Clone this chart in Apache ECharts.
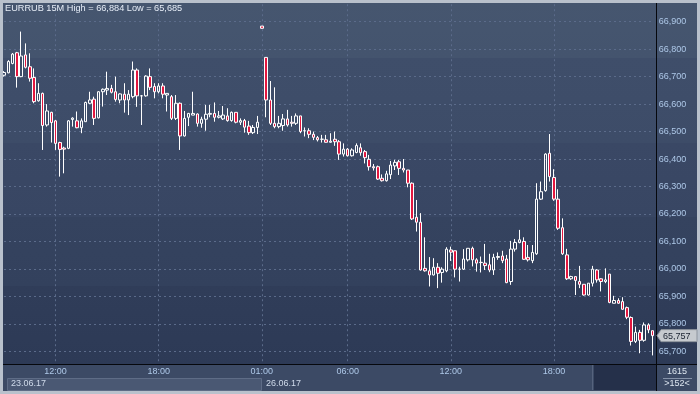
<!DOCTYPE html>
<html><head><meta charset="utf-8">
<script src="https://cdn.jsdelivr.net/npm/echarts@6/dist/echarts.min.js"></script>
<style>
html,body{margin:0;padding:0;background:#2c3a56;overflow:hidden;}
#c{width:700px;height:394px;background:linear-gradient(to bottom,#46566f 0px,#44546e 58px,#3f4e6a 58px,#3d4c68 143px,#3a4865 143px,#384663 217px,#35435f 217px,#33415d 286px,#303d59 286px,#2d3a56 364px,#2d3a56 394px);}
</style></head><body><div id="c"></div>
<script>
// ---- data (EURRUB 15M) ----
const open = [
66.705,66.714,66.748,66.787,66.700,66.779,66.736,66.697,66.612,66.639,
66.524,66.570,66.539,66.460,66.440,66.439,66.544,66.539,66.514,66.536,
66.603,66.618,66.550,66.645,66.651,66.657,66.645,66.615,66.636,66.615,
66.627,66.724,66.630,66.630,66.700,66.664,66.645,66.666,66.633,66.627,
66.548,66.603,66.484,66.552,66.560,66.564,66.530,66.545,66.563,66.566,
66.552,66.546,66.557,66.540,66.570,66.534,66.540,66.520,66.496,66.515,
66.884,66.770,66.615,66.530,66.518,66.522,66.546,66.534,66.530,66.557,
66.503,66.503,66.490,66.478,66.472,66.470,66.461,66.472,66.463,66.418,
66.436,66.412,66.424,66.441,66.427,66.399,66.372,66.372,66.330,66.321,
66.343,66.375,66.390,66.366,66.360,66.312,66.188,66.170,66.002,65.993,
65.978,66.006,65.987,65.993,66.069,66.066,65.999,65.999,66.033,66.075,
66.033,66.024,66.021,66.015,65.996,66.042,66.047,66.036,65.954,66.072,
66.096,66.100,66.042,66.030,66.055,66.254,66.285,66.421,66.333,66.254,
66.150,66.051,65.964,65.972,65.954,65.944,65.905,65.948,65.996,65.964,
65.954,65.981,65.875,65.885,65.881,65.859,65.823,65.736,65.769,65.740,
65.796,65.775];
const close = [
66.715,66.755,66.782,66.700,66.775,66.734,66.694,66.609,66.639,66.522,
66.575,66.533,66.457,66.435,66.436,66.539,66.549,66.514,66.539,66.606,
66.615,66.548,66.645,66.654,66.657,66.643,66.617,66.637,66.615,66.636,
66.724,66.630,66.630,66.702,66.661,66.645,66.666,66.636,66.639,66.548,
66.603,66.484,66.548,66.566,66.566,66.530,66.545,66.563,66.566,66.552,
66.557,66.560,66.540,66.570,66.534,66.540,66.516,66.496,66.515,66.534,
66.876,66.615,66.530,66.518,66.530,66.546,66.524,66.530,66.557,66.500,
66.503,66.490,66.479,66.470,66.472,66.461,66.465,66.463,66.418,66.436,
66.412,66.433,66.449,66.423,66.405,66.372,66.368,66.327,66.321,66.346,
66.378,66.388,66.366,66.360,66.312,66.182,66.170,65.996,65.993,65.978,
66.006,65.984,65.999,66.072,66.061,65.999,65.999,66.036,66.075,66.033,
66.021,66.023,66.012,65.996,66.042,66.045,66.030,65.950,66.072,66.096,
66.106,66.035,66.033,66.060,66.254,66.281,66.418,66.336,66.254,66.148,
66.055,65.964,65.972,65.958,65.944,65.905,65.948,65.999,65.960,65.954,
65.960,65.878,65.885,65.875,65.853,65.824,65.736,65.769,65.740,65.796,
65.778,65.757];
const low = [
66.700,66.712,66.745,66.660,66.698,66.730,66.682,66.603,66.609,66.433,
66.518,66.460,66.433,66.336,66.348,66.436,66.518,66.512,66.494,66.536,
66.600,66.524,66.548,66.591,66.633,66.639,66.609,66.603,66.569,66.560,
66.621,66.590,66.524,66.627,66.651,66.621,66.639,66.621,66.573,66.542,
66.542,66.433,66.482,66.520,66.560,66.518,66.514,66.503,66.552,66.536,
66.548,66.542,66.536,66.536,66.530,66.524,66.496,66.488,66.491,66.491,
66.875,66.552,66.524,66.512,66.512,66.503,66.518,66.518,66.524,66.494,
66.482,66.476,66.469,66.464,66.460,66.460,66.460,66.448,66.397,66.409,
66.409,66.409,66.421,66.412,66.384,66.358,66.358,66.324,66.318,66.318,
66.327,66.360,66.342,66.351,66.297,66.178,66.136,65.994,65.990,65.936,
65.976,65.930,65.950,65.988,66.029,65.969,65.954,65.996,66.027,66.009,
65.990,65.987,65.996,65.988,65.978,66.033,66.021,65.948,65.942,66.063,
66.093,66.033,66.027,66.021,66.051,66.251,66.281,66.318,66.248,66.142,
66.051,65.960,65.960,65.905,65.930,65.903,65.903,65.936,65.950,65.918,
65.948,65.875,65.875,65.873,65.851,65.817,65.721,65.730,65.693,65.735,
65.766,65.685];
const high = [
66.720,66.760,66.786,66.790,66.864,66.821,66.785,66.730,66.676,66.642,
66.600,66.572,66.542,66.463,66.445,66.542,66.552,66.573,66.548,66.609,
66.645,66.627,66.647,66.657,66.718,66.670,66.700,66.639,66.676,66.651,
66.755,66.730,66.633,66.705,66.730,66.676,66.676,66.676,66.640,66.633,
66.633,66.606,66.575,66.568,66.645,66.566,66.554,66.597,66.597,66.606,
66.575,66.593,66.585,66.573,66.570,66.548,66.546,66.539,66.524,66.557,
66.884,66.770,66.684,66.661,66.557,66.564,66.579,66.557,66.566,66.557,
66.515,66.512,66.500,66.484,66.488,66.488,66.494,66.500,66.469,66.457,
66.440,66.439,66.457,66.457,66.433,66.415,66.382,66.376,66.344,66.357,
66.393,66.397,66.397,66.400,66.360,66.315,66.251,66.203,66.115,66.043,
66.039,66.021,66.006,66.079,66.081,66.066,66.008,66.072,66.075,66.081,
66.039,66.045,66.091,66.055,66.055,66.060,66.066,66.051,66.102,66.109,
66.142,66.115,66.087,66.087,66.312,66.318,66.421,66.491,66.363,66.290,
66.184,66.073,65.975,65.972,66.011,65.944,65.948,66.011,65.999,65.966,
66.002,65.981,65.902,65.893,65.897,65.863,65.827,65.790,65.778,65.805,
65.802,65.775];
// session start (minutes of day) for the two trading days shown
const days = ['23.06.17', '26.06.17'];
const dayStartMin = [9 * 60, 1 * 60];
const tickLabels = ['12:00', '18:00', '01:00', '06:00'];
const titleText = 'EURRUB 15M High = 66,884 Low = 65,685';

const categories = [];
const dayFirstIndex = [];
function hhmm(m) { const h = Math.floor(m / 60), mm = m % 60; return (h < 10 ? '0' : '') + h + ':' + (mm < 10 ? '0' : '') + mm; }
dayStartMin.forEach((s) => { dayFirstIndex.push(categories.length); for (let m = s; m < 24 * 60; m += 15) categories.push(hhmm(m)); });

const candles = open.map((o, i) => [o, close[i], low[i], high[i]]);
const tickSet = new Set(tickLabels);
const FONT = '"Liberation Sans", Arial, sans-serif';
const fmt = v => v.toFixed(3).replace('.', ',');

const chart = echarts.init(document.getElementById('c'), null, { renderer: 'canvas' });
const GL = 4, GW = 648.7;
chart.setOption({
  backgroundColor: 'transparent',
  animation: false,
  grid: [
    { left: GL, top: -5.77, width: GW, height: 384.54, outerBoundsMode: 'none', containLabel: false },
    { left: GL, top: 364, width: GW, height: 1, outerBoundsMode: 'none', containLabel: false }
  ],
  xAxis: [
    { type: 'category', data: categories, boundaryGap: false, gridIndex: 0,
      axisLine: { show: false }, axisTick: { show: false }, axisLabel: { show: false },
      splitLine: { show: true, interval: (i, v) => tickSet.has(v), lineStyle: { color: '#5b6b8a', type: [2, 3], width: 1 } } },
    { type: 'category', data: categories, boundaryGap: false, gridIndex: 1, z: 120,
      axisLine: { show: false }, axisTick: { show: false }, splitLine: { show: false },
      axisLabel: { show: true, interval: (i, v) => tickSet.has(v), margin: 2, color: '#aec8e8', fontSize: 9, fontFamily: FONT } }
  ],
  yAxis: [
    { type: 'value', position: 'right', gridIndex: 0, min: 65.6, max: 67.0, interval: 0.1,
      axisLine: { show: false }, axisTick: { show: false },
      axisLabel: { margin: 6, color: '#aec8e8', fontSize: 9, fontFamily: FONT,
        formatter: v => (v < 65.65 || v > 66.95) ? '' : fmt(v) },
      splitLine: { show: true, lineStyle: { color: '#5b6b8a', type: [2, 3], width: 1 } } },
    { type: 'value', gridIndex: 1, show: false }
  ],
  series: [{
    type: 'candlestick', xAxisIndex: 0, yAxisIndex: 0, data: candles, barWidth: 3,
    itemStyle: { color: 'rgba(0,0,0,0)', color0: '#e3173f', borderColor: '#ffffff', borderColor0: '#ffffff', borderWidth: 1 }
  }]
});

const xDay2 = Math.round(chart.convertToPixel({ xAxisIndex: 0 }, dayFirstIndex[1]));
const lastClose = close[close.length - 1];
const yLast = chart.convertToPixel({ yAxisIndex: 0 }, lastClose);
const Z = 100;
const txt = (x, y, t, color, align, size) => ({ type: 'text', z: Z + 5, x: x, y: y,
  style: { text: t, fill: color, font: (size || 9) + 'px ' + FONT, textAlign: align || 'left', textVerticalAlign: 'middle' } });

chart.setOption({
  graphic: { elements: [
    // bottom strips
    { type: 'rect', z: Z, shape: { x: 3, y: 365, width: 694, height: 26 }, style: { fill: '#3c4a65' } },
    { type: 'rect', z: Z + 1, shape: { x: 7.5, y: 378.5, width: xDay2 - 8, height: 12 }, style: { fill: '#4a5873', stroke: '#5e6c86', lineWidth: 1 } },
    { type: 'rect', z: Z + 1, shape: { x: 594, y: 365, width: 62, height: 25 }, style: { fill: '#25304a' } },
    { type: 'rect', z: Z + 1, shape: { x: 592, y: 365, width: 1, height: 25 }, style: { fill: '#56637d' } },
    { type: 'rect', z: Z + 2, shape: { x: 663, y: 378, width: 29, height: 1 }, style: { fill: '#8592a8' } },
    // black separators
    { type: 'rect', z: Z + 3, shape: { x: 3, y: 364, width: 694, height: 1 }, style: { fill: '#06080d' } },
    { type: 'rect', z: Z + 3, shape: { x: 656, y: 3, width: 1, height: 388 }, style: { fill: '#06080d' } },
    // outer frame
    { type: 'rect', z: Z + 4, shape: { x: 0, y: 0, width: 700, height: 3 }, style: { fill: '#b9c1cc' } },
    { type: 'rect', z: Z + 4, shape: { x: 0, y: 0, width: 3, height: 394 }, style: { fill: '#b9c1cc' } },
    { type: 'rect', z: Z + 4, shape: { x: 697, y: 0, width: 3, height: 394 }, style: { fill: '#b9c1cc' } },
    { type: 'rect', z: Z + 4, shape: { x: 0, y: 391, width: 700, height: 3 }, style: { fill: '#b9c1cc' } },
    // texts
    txt(5, 8.5, titleText, '#e6edf7', 'left', 9.2),
    txt(11, 384, days[0], '#cfdaea'),
    txt(xDay2 + 4, 384, days[1], '#cfdaea'),
    txt(677, 371.5, '1615', '#dde6f0', 'center'),
    txt(677, 384, '>' + categories.length + '<', '#dde6f0', 'center'),
    // last price tag
    { type: 'polygon', z: Z + 5, shape: { points: [[657, yLast], [661, yLast - 6], [697, yLast - 6], [697, yLast + 6], [661, yLast + 6]] },
      style: { fill: '#c6cacf', stroke: '#8e959e', lineWidth: 1 } },
    txt(663, yLast + 0.5, fmt(lastClose), '#1a2230')
  ] }
});
</script></body></html>
